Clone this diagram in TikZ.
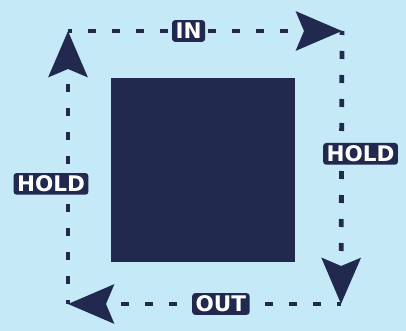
\documentclass[tikz,border=0pt]{standalone}
\usepackage{fontspec}
\newfontfamily\tagfont{DejaVu Sans}
\usetikzlibrary{positioning, arrows.meta, calc}
\definecolor{skyback}{RGB}{198, 233, 247}
\definecolor{navy}{RGB}{33, 41, 79}

\begin{document}
\begin{tikzpicture}[x=1pt, y=-1pt,
    flow/.style={navy, line width=4.8pt, dash pattern=on 8pt off 16pt, dash phase=4pt,
        -{Stealth[length=46pt, width=39pt, inset=8pt]}},
    tag/.style={fill=navy, text=white, rounded corners=3pt, font=\tagfont\bfseries\fontsize{21.5}{21.5}\selectfont,
        inner xsep=3.5pt, inner ysep=3pt, text height=15.7pt, text depth=0pt}]
\fill[skyback] (0,0) rectangle (406,331);
\useasboundingbox (0,0) rectangle (406,331);
% block in the middle
\node[fill=navy, minimum size=184pt, inner sep=0pt] (block) at (203,170) {};
% corners of the loop
\coordinate (tl) at (68,31);
\coordinate (tr) at (342,31);
\coordinate (br) at (341,304);
\coordinate (bl) at (68,304);
\draw[flow] (tl) -- (tr) node[tag, pos=0.44] (in) {IN};
\draw[flow] (tr) -- (br) node[tag, pos=0.45, xshift=19pt] (holdr) {HOLD};
\draw[flow] (br) -- (bl) node[tag, pos=0.44] (out) {OUT};
\draw[flow] (bl) -- (tl) node[tag, pos=0.44, xshift=-17pt] (holdl) {HOLD};
\end{tikzpicture}
\end{document}
